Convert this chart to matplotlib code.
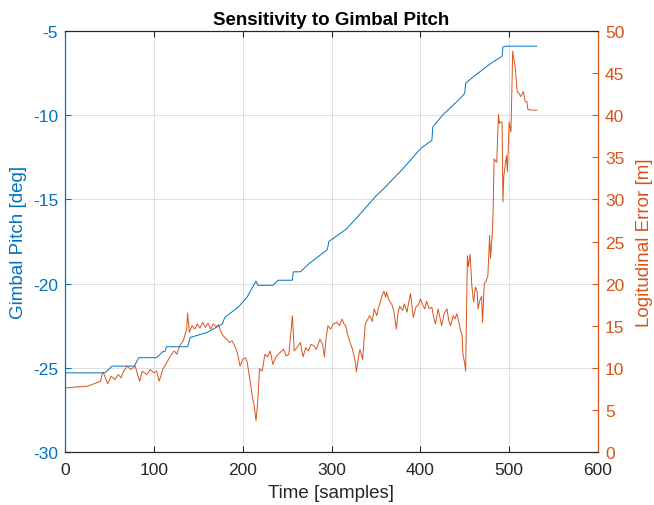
import numpy as np
import matplotlib
matplotlib.use('Agg')
import matplotlib.pyplot as plt

# gimbal pitch (left axis) - sample index / degrees
pitch_t = [0, 45, 53, 78, 83, 103, 110, 113, 114, 138, 141, 160, 177, 180, 195, 205, 215, 217,
           234, 240, 256, 257, 265, 275, 285, 295, 296, 297, 305, 317, 330, 340, 350, 360, 369,
           380, 390, 400, 410, 413, 414, 425, 435, 445, 450, 451, 460, 470, 480, 492, 493, 497, 531]
pitch_deg = [-25.3, -25.3, -24.9, -24.9, -24.4, -24.4, -24.05, -24.0, -23.75, -23.75, -23.2, -22.9,
             -22.4, -22.0, -21.4, -20.8, -19.85, -20.1, -20.1, -19.8, -19.8, -19.3, -19.3, -18.8,
             -18.4, -18.0, -17.8, -17.5, -17.2, -16.75, -16.0, -15.4, -14.8, -14.3, -13.8, -13.2,
             -12.6, -12.0, -11.6, -11.5, -10.7, -10.0, -9.5, -9.0, -8.7, -8.1, -7.7, -7.3, -6.9,
             -6.5, -5.95, -5.9, -5.9]

# longitudinal error (right axis) - sample index / metres
err_t = [0, 10, 25, 35, 40, 42, 43, 48, 52, 56, 60, 63, 66, 70, 74, 79, 84, 87, 92, 96, 100, 103,
         106, 110, 115, 119, 123, 126, 129, 133, 137, 138, 140, 143, 146, 149, 152, 155, 158, 161,
         164, 167, 170, 173, 175, 178, 182, 185, 188, 191, 194, 197, 200, 203, 205, 208, 211, 213,
         215, 217, 219, 222, 225, 228, 231, 234, 237, 240, 243, 246, 249, 252, 256, 258, 261, 265,
         268, 271, 274, 277, 280, 283, 287, 290, 292, 294, 296, 299, 302, 306, 309, 312, 314, 316,
         318, 321, 323, 325, 327, 328, 330, 332, 335, 338, 341, 343, 346, 348, 351, 353, 355, 357,
         359, 361, 362, 364, 366, 368, 370, 373, 375, 377, 380, 382, 385, 387, 389, 392, 395, 398,
         400, 403, 405, 407, 410, 413, 415, 417, 420, 422, 424, 427, 430, 432, 434, 437, 439, 441,
         443, 445, 447, 448, 450, 451, 453, 454, 456, 458, 460, 462, 464, 465, 467, 469, 470, 472,
         474, 476, 478, 479, 481, 482, 483, 486, 488, 489, 490, 492, 493, 494, 497, 498, 500, 502,
         504, 507, 509, 511, 513, 516, 518, 520, 521, 525, 531]
err_m = [7.6, 7.7, 7.8, 8.2, 8.4, 9.3, 9.5, 8.1, 9.0, 8.6, 9.2, 8.8, 9.6, 10.2, 9.8, 10.2, 8.4, 9.6,
         9.2, 9.8, 9.4, 9.6, 8.4, 9.8, 10.7, 11.5, 12.0, 11.6, 12.6, 13.2, 14.6, 16.5, 14.2, 15.0,
         14.6, 15.2, 14.7, 15.4, 14.8, 15.3, 14.6, 15.2, 14.9, 15.1, 14.4, 13.8, 13.4, 13.0, 13.2,
         12.6, 11.8, 10.2, 11.0, 11.2, 10.7, 8.7, 6.5, 5.5, 3.7, 6.0, 9.9, 9.6, 11.6, 11.3, 12.0,
         10.4, 11.2, 11.6, 11.9, 12.2, 11.4, 11.6, 16.2, 12.0, 12.4, 13.0, 11.3, 12.4, 12.0, 12.8,
         12.6, 12.2, 13.4, 12.8, 11.3, 13.6, 15.0, 14.6, 15.2, 15.4, 15.0, 15.8, 15.2, 15.0, 14.0,
         13.0, 12.4, 11.6, 10.6, 9.5, 11.0, 12.2, 11.0, 15.2, 15.8, 16.2, 15.5, 17.0, 16.2, 17.2,
         17.8, 18.6, 19.1, 18.4, 19.0, 18.2, 17.8, 17.5, 16.8, 14.6, 16.6, 17.3, 16.8, 17.6, 16.6,
         17.8, 18.8, 16.0, 17.2, 17.5, 18.2, 17.4, 17.0, 17.9, 17.0, 17.2, 16.0, 15.2, 17.0, 16.0,
         15.0, 16.5, 17.0, 15.6, 15.0, 16.2, 15.8, 16.4, 15.6, 14.6, 13.8, 11.6, 10.5, 9.6, 23.3,
         22.0, 23.5, 19.7, 17.8, 19.6, 19.0, 17.0, 18.0, 18.5, 15.4, 20.0, 20.3, 20.9, 25.7, 23.0,
         26.0, 28.9, 34.8, 34.4, 40.1, 39.0, 39.2, 39.2, 29.7, 32.8, 35.2, 33.3, 39.2, 38.0, 47.6,
         45.5, 42.8, 42.6, 42.2, 42.8, 41.6, 41.6, 40.7, 40.6, 40.6]

x_ticks = [0, 100, 200, 300, 400, 500, 600]
left_ticks = [-30, -25, -20, -15, -10, -5]
right_ticks = [0, 5, 10, 15, 20, 25, 30, 35, 40, 45, 50]

BLUE = '#0072BD'
ORANGE = '#D95319'

plt.rcParams['font.family'] = ['Liberation Sans', 'DejaVu Sans']
plt.rcParams['font.size'] = 12.5


def main():
    fig = plt.figure(figsize=(6.54, 5.06), dpi=100)
    ax = fig.add_axes([65 / 654, 1 - 453 / 506, 533 / 654, 421 / 506])
    ax2 = ax.twinx()

    ax.plot(pitch_t, pitch_deg, color=BLUE, lw=0.7)
    ax2.plot(err_t, err_m, color=ORANGE, lw=0.7)

    ax.set_xlim(0, 600)
    ax.set_ylim(-30, -5)
    ax2.set_ylim(0, 50)
    ax.set_xticks(x_ticks)
    ax.set_yticks(left_ticks)
    ax.set_yticklabels([str(v) for v in left_ticks])
    ax2.set_yticks(right_ticks)

    ax.grid(True, color='#dfdfdf', lw=0.7)
    ax.set_axisbelow(True)

    ax.tick_params(axis='x', direction='in', colors='#262626', length=4, top=True, pad=7)
    ax.tick_params(axis='y', direction='in', colors=BLUE, length=4, pad=5)
    ax2.tick_params(axis='y', direction='in', colors=ORANGE, length=4, pad=5)

    for a in (ax, ax2):
        a.spines['top'].set_color('#262626')
        a.spines['bottom'].set_color('#262626')
        a.spines['left'].set_color(BLUE)
        a.spines['right'].set_color(ORANGE)

    ax.set_xlabel('Time [samples]', fontsize=13.5, color='#262626', labelpad=5)
    ax.set_ylabel('Gimbal Pitch [deg]', fontsize=13.5, color=BLUE, labelpad=4)
    ax2.set_ylabel('Logitudinal Error [m]', fontsize=13.5, color=ORANGE, labelpad=8)
    ax.set_title('Sensitivity to Gimbal Pitch', fontsize=13.5, fontweight='bold', pad=5)

    plt.savefig('out.png', dpi=100)


if __name__ == "__main__":
    main()
